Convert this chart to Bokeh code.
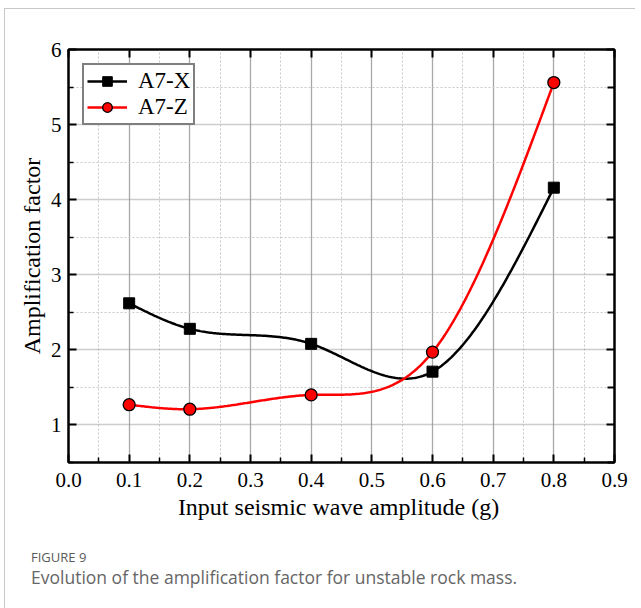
import numpy as np
from bokeh.plotting import figure
from bokeh.models import (Range1d, FixedTicker, NumeralTickFormatter, LinearAxis,
                          CustomJSTickFormatter, Legend, LegendItem, Div, ColumnDataSource)
from bokeh.layouts import column
from bokeh.embed import file_html
from bokeh.resources import INLINE

# ---- data ----
amplitude = [0.1, 0.2, 0.4, 0.6, 0.8]
a7_x = [2.62, 2.28, 2.08, 1.71, 4.16]
a7_z = [1.27, 1.21, 1.40, 1.97, 5.56]
x_ticks = [0.0, 0.1, 0.2, 0.3, 0.4, 0.5, 0.6, 0.7, 0.8, 0.9]
x_minor = [0.05, 0.15, 0.25, 0.35, 0.45, 0.55, 0.65, 0.75, 0.85]
y_ticks = [1, 2, 3, 4, 5, 6]
y_minor = [0.5, 1.5, 2.5, 3.5, 4.5, 5.5]
x_label = "Input  seismic wave amplitude (g)"
y_label = "Amplification factor"
caption_head = "FIGURE 9"
caption_text = "Evolution of the amplification factor for unstable rock mass."


def natural_spline(xs, ys, n=300):
    """Natural cubic spline through the data points (smooth connecting line)."""
    x = np.asarray(xs, float)
    y = np.asarray(ys, float)
    k = len(x)
    h = np.diff(x)
    A = np.zeros((k, k))
    b = np.zeros(k)
    A[0, 0] = A[-1, -1] = 1.0
    for i in range(1, k - 1):
        A[i, i - 1] = h[i - 1]
        A[i, i] = 2 * (h[i - 1] + h[i])
        A[i, i + 1] = h[i]
        b[i] = 6 * ((y[i + 1] - y[i]) / h[i] - (y[i] - y[i - 1]) / h[i - 1])
    M = np.linalg.solve(A, b)
    xx = np.linspace(x[0], x[-1], n)
    yy = np.empty_like(xx)
    for j, t in enumerate(xx):
        i = min(np.searchsorted(x, t, side="right") - 1, k - 2)
        hi = h[i]
        a = (x[i + 1] - t) / hi
        c = (t - x[i]) / hi
        yy[j] = (a * y[i] + c * y[i + 1]
                 + ((a ** 3 - a) * M[i] + (c ** 3 - c) * M[i + 1]) * hi * hi / 6.0)
    return xx, yy


FONT = "Liberation Serif"

p = figure(width=630, height=530, output_backend="svg", toolbar_location=None,
           x_range=Range1d(0, 0.9), y_range=Range1d(0.5, 6),
           min_border_left=63, min_border_right=21, min_border_top=40,
           min_border_bottom=77, background_fill_color="white",
           border_fill_color="white")
p.outline_line_color = "black"
p.outline_line_width = 2

xt = FixedTicker(ticks=x_ticks, minor_ticks=x_minor)
yt = FixedTicker(ticks=y_ticks, minor_ticks=y_minor)

for ax in (p.xaxis[0], p.yaxis[0]):
    ax.axis_line_width = 2
    ax.axis_line_color = "black"
    ax.major_tick_in = 8
    ax.major_tick_out = 0
    ax.minor_tick_in = 5
    ax.minor_tick_out = 0
    ax.major_tick_line_width = 2
    ax.minor_tick_line_width = 1.5
    ax.major_label_text_font = FONT
    ax.major_label_text_font_size = "21px"
    ax.major_label_text_color = "black"
    ax.axis_label_text_font = FONT
    ax.axis_label_text_font_size = "24px"
    ax.axis_label_text_font_style = "normal"
    ax.axis_label_text_color = "black"

p.xaxis[0].ticker = xt
p.xaxis[0].formatter = NumeralTickFormatter(format="0.0")
p.xaxis[0].axis_label = x_label
p.xaxis[0].major_label_standoff = 10
p.xaxis[0].axis_label_standoff = 4
p.yaxis[0].ticker = yt
p.yaxis[0].axis_label = y_label
p.yaxis[0].major_label_standoff = 7
p.yaxis[0].axis_label_standoff = 3

blank = CustomJSTickFormatter(code="return '';")
top = LinearAxis(ticker=FixedTicker(ticks=x_ticks, minor_ticks=[]), formatter=blank,
                 major_tick_in=8, major_tick_out=0, minor_tick_in=0, minor_tick_out=0,
                 axis_line_width=2, major_tick_line_width=2, major_label_text_font_size="1px",
                 major_label_standoff=0)
right = LinearAxis(ticker=FixedTicker(ticks=y_ticks, minor_ticks=y_minor), formatter=blank,
                   major_tick_in=8, major_tick_out=0, minor_tick_in=7, minor_tick_out=0,
                   axis_line_width=2, major_tick_line_width=2, minor_tick_line_width=2,
                   major_label_text_font_size="1px", major_label_standoff=0)
p.add_layout(top, "above")
p.add_layout(right, "right")

# grids
p.xgrid[0].ticker = xt
p.xgrid[0].grid_line_color = "#a8a8a8"
p.xgrid[0].grid_line_width = 1.3
p.xgrid[0].minor_grid_line_color = "#c8c8c8"
p.xgrid[0].minor_grid_line_dash = "2 2"
p.xgrid[0].minor_grid_line_width = 1
p.ygrid[0].ticker = yt
p.ygrid[0].grid_line_color = "#9a9a9a"
p.ygrid[0].grid_line_dash = "1 1"
p.ygrid[0].grid_line_width = 1.3
p.ygrid[0].minor_grid_line_color = "#c8c8c8"
p.ygrid[0].minor_grid_line_dash = "2 2"
p.ygrid[0].minor_grid_line_width = 1

# curves
sx, sy = natural_spline(amplitude, a7_x)
zx, zy = natural_spline(amplitude, a7_z)
src = ColumnDataSource(dict(x=amplitude, ax=a7_x, az=a7_z))

lx = p.line(sx, sy, line_color="black", line_width=2.5)
lz = p.line(zx, zy, line_color="#ff0000", line_width=2.5)
mx = p.scatter("x", "ax", source=src, marker="square", size=11,
               fill_color="black", line_color="black")
mz = p.scatter("x", "az", source=src, marker="circle", size=12,
               fill_color="#ff0000", line_color="black", line_width=1.3)

legend = Legend(items=[LegendItem(label="A7-X", renderers=[lx, mx]),
                       LegendItem(label="A7-Z", renderers=[lz, mz])],
                location="top_left")
legend.margin = 14
legend.padding = 3
legend.spacing = 0
legend.glyph_width = 40
legend.glyph_height = 24
legend.label_height = 24
legend.label_standoff = 11
legend.label_text_font = FONT
legend.label_text_font_size = "23px"
legend.label_text_color = "black"
legend.border_line_color = "black"
legend.border_line_width = 2
legend.background_fill_alpha = 1
p.add_layout(legend)

cap = Div(text=f'<div style="font-family: \'Open Sans\'; color:#5a5a5a;">'
               f'<div style="font-size:13px; line-height:18px;">{caption_head}</div>'
               f'<div style="font-size:17.5px; line-height:22px; color:#666;">{caption_text}</div></div>',
          width=600, height=60, styles={"padding-left": "21px", "padding-top": "4px"})

layout = column(p, cap, spacing=0,
                styles={"border-left": "1px solid #c8c8c8", "border-top": "1px solid #c8c8c8",
                        "margin-left": "4px", "margin-top": "8px"})

open("out.html", "w").write(file_html(layout, INLINE))
